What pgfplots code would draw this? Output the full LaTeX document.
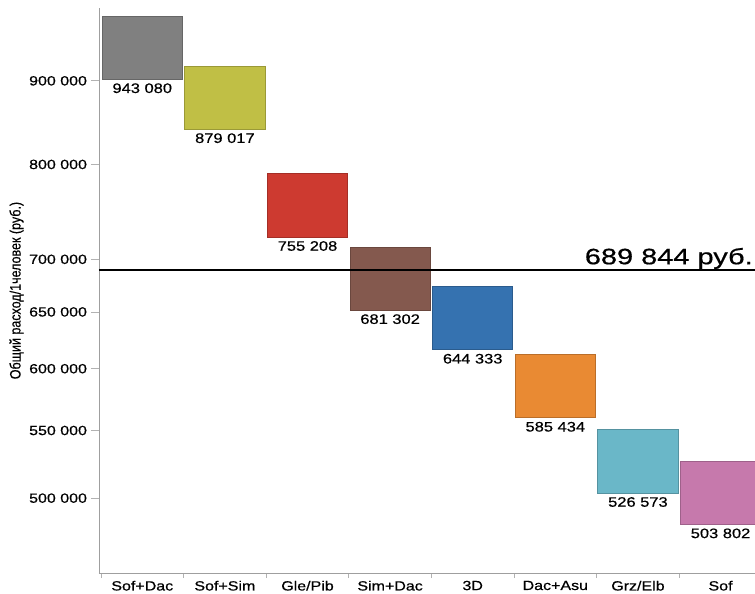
\documentclass[border=0pt]{standalone}
\usepackage{pgfplots}
\pgfplotsset{compat=1.18}
\usepackage{fontspec}
\setmainfont{Liberation Sans}[FakeStretch=1.2, FakeBold=0.6]
\newfontfamily\bigfont{Liberation Sans}[FakeStretch=1.3, FakeBold=0.6]
\newfontfamily\labelfont{Liberation Sans}[FakeStretch=0.83, FakeBold=0.4]

\definecolor{cGray}{RGB}{128,128,128}
\definecolor{cOlive}{RGB}{192,191,69}
\definecolor{cRed}{RGB}{205,58,48}
\definecolor{cBrown}{RGB}{132,89,78}
\definecolor{cBlue}{RGB}{53,114,176}
\definecolor{cOrange}{RGB}{233,138,51}
\definecolor{cCyan}{RGB}{106,183,200}
\definecolor{cPink}{RGB}{198,121,172}

\pgfplotsset{
  box/.style={only marks, mark=square*, mark size=23.7pt,
    mark options={xscale=1.269, fill=#1, draw=#1!80!black, line width=0.6pt, solid}},
}

\begin{document}
\begin{tikzpicture}
\begin{axis}[
  scale only axis, width=492pt, height=424pt,
  ymode=log, ymin=449840, ymax=997400,
  xmin=0.476, xmax=8.417,
  axis lines*=left,
  axis line style={-, draw=gray!75, line width=0.6pt},
  tick align=outside,
  major tick length=6pt, minor tick length=3.75pt,
  xtick={1,...,8},
  xticklabels={Sof+Dac,Sof+Sim,Gle/Pib,Sim+Dac,3D,Dac+Asu,Grz/Elb,Sof},
  minor xtick={0.5,1.5,...,7.5},
  every major x tick/.append style={draw=none},
  every minor x tick/.append style={draw=gray!60, line width=0.6pt},
  ytick={500000,550000,600000,650000,700000,800000,900000},
  yticklabels={500 000,550 000,600 000,650 000,700 000,800 000,900 000},
  yminorticks=false,
  every major y tick/.append style={draw=gray!60, line width=0.6pt},
  tick label style={font=\fontsize{10}{12}\selectfont},
  yticklabel style={inner sep=0pt, anchor=east, xshift=-2.8pt},
  xticklabel style={inner sep=0pt, anchor=north, yshift=0.5pt},
  ylabel={\labelfont\fontsize{11.3}{13}\selectfont Общий расход/1человек (руб.)},
  ylabel style={at={(axis description cs:-0.1258,0.5)}, anchor=center},
  clip marker paths=true,
  /pgf/number format/assume math mode=true,
  point meta=rawy,
  nodes near coords={\pgfmathprintnumber[fixed, precision=0, 1000 sep={\ }]{\pgfplotspointmeta}},
  every node near coord/.append style={anchor=north, inner sep=0pt, yshift=-26.5pt,
    text=black, font=\fontsize{10.3}{12}\selectfont},
]
% one floating box per combination, centred on its cost
\addplot[box=cGray]   coordinates {(1,943080)};
\addplot[box=cOlive]  coordinates {(2,879017)};
\addplot[box=cRed]    coordinates {(3,755208)};
\addplot[box=cBrown]  coordinates {(4,681302)};
\addplot[box=cBlue]   coordinates {(5,644333)};
\addplot[box=cOrange] coordinates {(6,585434)};
\addplot[box=cCyan]   coordinates {(7,526573)};
\addplot[box=cPink]   coordinates {(8,503802)};
% reference level
\addplot[black, line width=1.5pt, no marks, nodes near coords={}] coordinates {(0.476,689844) (8.417,689844)};
\node[anchor=base east, inner sep=0pt, xshift=-1.5pt, yshift=4.1pt,
  font=\bigfont\fontsize{16.7}{20}\selectfont] at (axis cs:8.417,689844) {689 844 руб.};
\end{axis}
\pgfresetboundingbox
\path[use as bounding box] ([xshift=-74.25pt,yshift=-14.8pt]current axis.south west)
  rectangle ([yshift=6pt]current axis.north east);
\end{tikzpicture}
\end{document}
